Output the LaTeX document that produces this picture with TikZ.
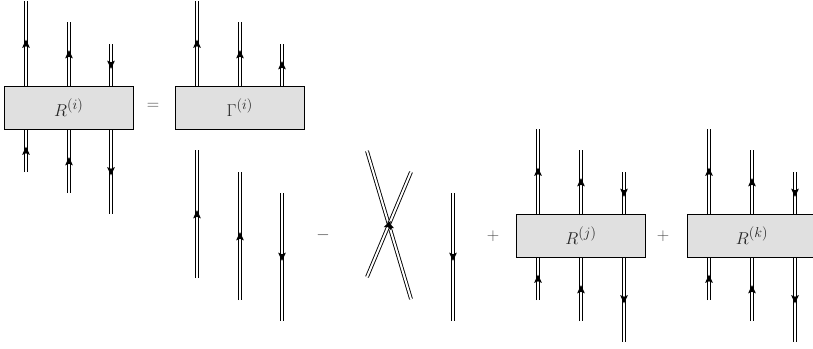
\documentclass[tikz,border=0pt]{standalone}
\usepackage{amsmath}
\usetikzlibrary{decorations.markings}
\tikzset{
  x=1bp,y=-1bp,
  wire/.style={draw=black,line width=0.9bp,double=white,double distance=2bp,
    postaction={decorate,decoration={markings,mark=at position .5 with {\fill[black] (4,0) -- (-4.4,3.9) -- (-2.8,0) -- (-4.4,-3.9) -- cycle;}}}},
  box/.style={draw=black,line width=0.9bp,fill=black!12,minimum width=128.5bp,minimum height=43bp,inner sep=0pt,font=\fontsize{19}{22}\selectfont,text=black!85},
  sign/.style={inner sep=0pt,font=\fontsize{19}{22}\selectfont,text=black!70},
}
\newcommand{\wireset}[7]{%
  % #1 prefix, #2 x1, #3 x2, #4 x3, #5 box top, #6 box bottom, #7 third-top direction sign
  \coordinate (#1ta) at (#2,#5-85);
  \coordinate (#1tb) at (#3,#5-64);
  \coordinate (#1tc) at (#4,#5-42);
  \coordinate (#1ua) at (#2,#5);
  \coordinate (#1ub) at (#3,#5);
  \coordinate (#1uc) at (#4,#5);
  \coordinate (#1la) at (#2,#6);
  \coordinate (#1lb) at (#3,#6);
  \coordinate (#1lc) at (#4,#6);
  \coordinate (#1ba) at (#2,#6+43);
  \coordinate (#1bb) at (#3,#6+64);
  \coordinate (#1bc) at (#4,#6+85);
  \draw[wire] (#1ua) -- (#1ta);
  \draw[wire] (#1ub) -- (#1tb);
  \ifnum#7=1 \draw[wire] (#1uc) -- (#1tc); \else \draw[wire] (#1tc) -- (#1uc); \fi
}
\newcommand{\lowerwires}[1]{%
  \draw[wire] (#1ba) -- (#1la);
  \draw[wire] (#1bb) -- (#1lb);
  \draw[wire] (#1lc) -- (#1bc);
}
\begin{document}
\begin{tikzpicture}
\useasboundingbox (0,0) rectangle (813,348);
% R^(i)
\wireset{a}{26}{69}{111}{86}{129}{0}
\lowerwires{a}
\node[box] (A) at (68.8,107.5) {$R^{(i)}$};
\node[sign] (eq) at (153,106) {$=$};
% Gamma^(i)
\wireset{b}{197}{240}{282}{86}{129}{1}
\node[box] (B) at (239.8,107.5) {$\Gamma^{(i)}$};
% bare lines
\coordinate (c1t) at (197,150); \coordinate (c1b) at (197,278);
\coordinate (c2t) at (240,172); \coordinate (c2b) at (240,300);
\coordinate (c3t) at (282,193); \coordinate (c3b) at (282,321);
\draw[wire] (c1b) -- (c1t);
\draw[wire] (c2b) -- (c2t);
\draw[wire] (c3t) -- (c3b);
\node[sign] (minus) at (323,235) {$-$};
% crossing
\coordinate (x1t) at (367,151); \coordinate (x1b) at (411,299);
\coordinate (x2t) at (411,172); \coordinate (x2b) at (367,277);
\draw[wire] (x1b) -- (x1t);
\draw[wire] (x2b) -- (x2t);
\coordinate (d1t) at (453,193); \coordinate (d1b) at (453,321);
\draw[wire] (d1t) -- (d1b);
\node[sign] (p1) at (493,236) {$+$};
% R^(j)
\wireset{e}{538}{581}{624}{214}{257}{0}
\lowerwires{e}
\node[box] (E) at (581,235.5) {$R^{(j)}$};
\node[sign] (p2) at (663,236) {$+$};
% R^(k)
\wireset{f}{709}{752}{795}{214}{257}{0}
\lowerwires{f}
\node[box] (F) at (752,235.5) {$R^{(k)}$};
\end{tikzpicture}
\end{document}
